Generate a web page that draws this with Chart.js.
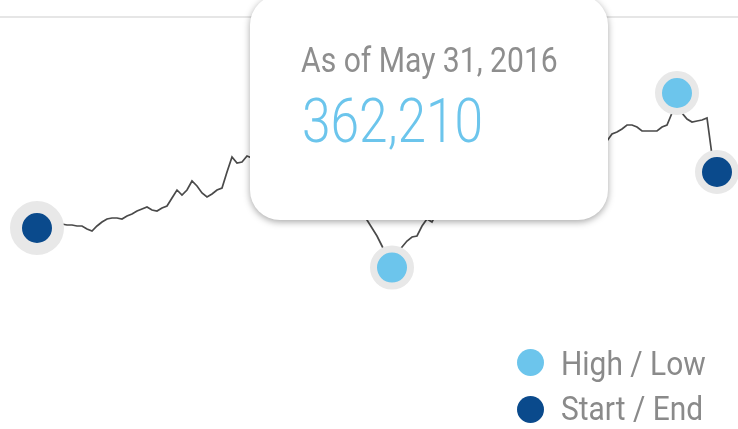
<!DOCTYPE html>
<html>
<head>
<meta charset="utf-8">
<script src="https://cdn.jsdelivr.net/npm/chart.js@4/dist/chart.umd.min.js"></script>
<style>
  body { margin: 0; background: #fff; overflow: hidden; }
  #wrap { position: relative; width: 738px; height: 429px; overflow: hidden; font-family: Roboto, sans-serif; }
  #tip {
    position: absolute; display: none; width: 358px; height: 225px;
    background: #fff; border-radius: 30px;
    box-shadow: 0 2px 7px rgba(0, 0, 0, 0.35);
  }
  #tip .date, #tip .val, .legend-text { position: absolute; white-space: nowrap; transform-origin: left top; }
  #tip .date { left: 51px; top: 48px; font-size: 35px; line-height: 35px; color: #8e8e8e; transform: scaleX(0.86); }
  #tip .val { left: 52px; top: 95px; font-size: 62px; line-height: 62px; font-weight: 300; color: #6cc5ec; transform: scaleX(0.83); }
  .legend-dot { position: absolute; width: 27px; height: 27px; border-radius: 50%; }
  .legend-text { font-size: 34px; line-height: 34px; color: #8a8a8a; transform: scaleX(0.88); }
</style>
</head>
<body>
<div id="wrap">
  <canvas id="chart"></canvas>
  <div id="tip"><div class="date"></div><div class="val"></div></div>
  <div id="legend"></div>
</div>
<script>
// weekly values, first week starting here
const firstWeek = '2015-01-20';
const values = [
  382000, 385000, 386500, 387500, 385500, 384000, 383500, 383500, 383000, 383000,
  381500, 380500, 383000, 385000, 386500, 387000, 387000, 386500, 388000, 389000,
  390500, 391500, 392500, 391000, 390500, 392000, 393000, 397000, 401000, 398500,
  401000, 405500, 403000, 399500, 397500, 399000, 401000, 402000, 410000, 417500,
  414500, 415000, 418000, 417000, 420000, 422000, 421000, 424000, 423000, 426000,
  424500, 422000, 423500, 420000, 417000, 418500, 414500, 411000, 412500, 407000,
  403000, 404500, 399000, 396000, 393500, 390000, 386000, 382000, 378000, 373000,
  368000, 362210, 369500, 372500, 375500, 377500, 378000, 383000, 386500, 385000,
  390000, 393500, 397000, 396000, 401000, 404000, 403000, 408000, 411000, 410000,
  414000, 416000, 415000, 418000, 421000, 419500, 422000, 423000, 421000, 424000,
  425000, 423000, 426000, 424500, 427000, 425500, 428000, 426500, 425000, 427500,
  426000, 428500, 427000, 425000, 425500, 429000, 430000, 431500, 433500, 433500,
  432500, 430500, 430500, 430500, 430500, 432500, 433500, 439500, 449500, 439500,
  436500, 435000, 435500, 436000, 437000, 418500, 410000
];
const legendLabels = ['High / Low', 'Start / End'];
const topLineValue = 487500;

const lightBlue = '#6cc5ec';
const darkBlue = '#0a4a8c';
const haloGray = '#e8e8e8';

const weeks = values.map((v, i) => {
  const d = new Date(firstWeek + 'T00:00:00Z');
  d.setUTCDate(d.getUTCDate() + i * 7);
  return d.toLocaleDateString('en-US', { month: 'short', day: 'numeric', year: 'numeric', timeZone: 'UTC' });
});

const lowIdx = values.indexOf(Math.min(...values));
const highIdx = values.indexOf(Math.max(...values));
const lastIdx = values.length - 1;

const isMarker = (i) => i === 0 || i === lastIdx || i === lowIdx || i === highIdx;
const markerColor = (i) => (i === lowIdx || i === highIdx) ? lightBlue : darkBlue;

function externalTooltip(context) {
  const { chart, tooltip } = context;
  const el = document.getElementById('tip');
  if (tooltip.opacity === 0 || !tooltip.dataPoints || !tooltip.dataPoints.length) {
    el.style.display = 'none';
    return;
  }
  const dp = tooltip.dataPoints[0];
  el.querySelector('.date').textContent = 'As of ' + weeks[dp.dataIndex];
  el.querySelector('.val').textContent = values[dp.dataIndex].toLocaleString('en-US');
  el.style.display = 'block';
  el.style.left = (tooltip.caretX - 142) + 'px';
  el.style.top = (tooltip.caretY - 273) + 'px';
}

const ctx = document.getElementById('chart').getContext('2d');
const chart = new Chart(ctx, {
  type: 'line',
  data: {
    datasets: [{
      data: values.map((v, i) => ({ x: i, y: v })),
      borderColor: '#4a4a4a',
      borderWidth: 1.7,
      tension: 0,
      fill: false,
      clip: false,
      pointRadius: (c) => !isMarker(c.dataIndex) ? 0 : (c.dataIndex === 0 ? 21 : 18.5),
      pointHoverRadius: (c) => !isMarker(c.dataIndex) ? 0 : (c.dataIndex === 0 ? 21 : 18.5),
      pointBorderWidth: (c) => c.dataIndex === 0 ? 12 : 7,
      pointHoverBorderWidth: (c) => c.dataIndex === 0 ? 12 : 7,
      pointBackgroundColor: (c) => markerColor(c.dataIndex),
      pointHoverBackgroundColor: (c) => markerColor(c.dataIndex),
      pointBorderColor: haloGray,
      pointHoverBorderColor: haloGray
    }]
  },
  options: {
    responsive: true,
    maintainAspectRatio: false,
    animation: false,
    layout: { padding: 0, autoPadding: false },
    plugins: {
      legend: { display: false },
      tooltip: { enabled: false, external: externalTooltip }
    },
    scales: {
      x: { type: 'linear', display: false, min: -7.4, max: 140.2 },
      y: {
        min: 281500,
        max: 496000,
        border: { display: false },
        ticks: { display: false },
        grid: { color: '#e6e6e6', lineWidth: 2, drawTicks: false },
        afterBuildTicks: (s) => { s.ticks = [{ value: topLineValue }]; },
        afterFit: (s) => { s.width = 0; }
      }
    }
  }
});

// show the low point in the tooltip
const lowPt = chart.getDatasetMeta(0).data[lowIdx];
chart.tooltip.setActiveElements([{ datasetIndex: 0, index: lowIdx }], { x: lowPt.x, y: lowPt.y });
chart.update();

// legend
const legend = document.getElementById('legend');
[lightBlue, darkBlue].forEach((color, k) => {
  const dot = document.createElement('div');
  dot.className = 'legend-dot';
  dot.style.background = color;
  dot.style.left = '517px';
  dot.style.top = (349 + k * 47) + 'px';
  legend.appendChild(dot);
  const txt = document.createElement('div');
  txt.className = 'legend-text';
  txt.textContent = legendLabels[k];
  txt.style.left = '561px';
  txt.style.top = (346 + k * 45) + 'px';
  legend.appendChild(txt);
});
</script>
</body>
</html>
